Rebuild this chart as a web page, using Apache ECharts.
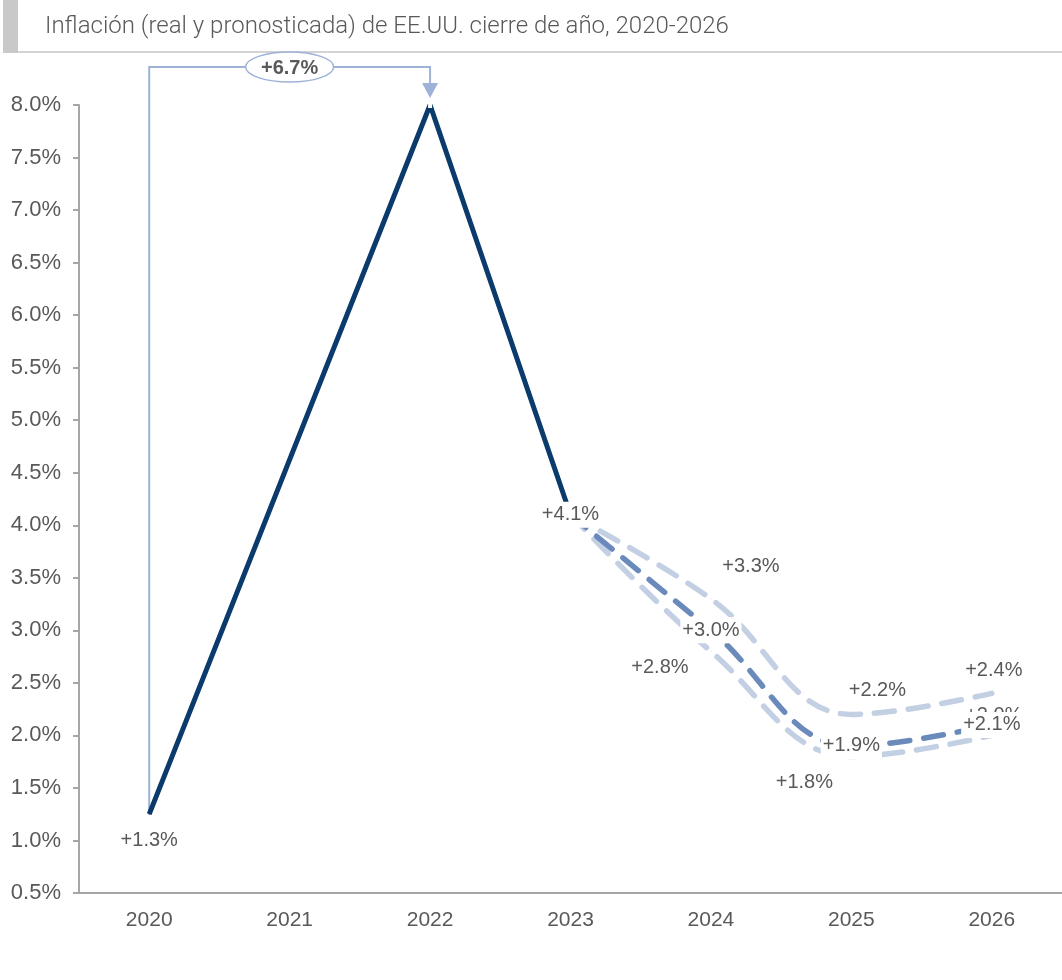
<!DOCTYPE html>
<html>
<head>
<meta charset="utf-8">
<script src="https://cdn.jsdelivr.net/npm/echarts@6/dist/echarts.min.js"></script>
<style>
  html, body { margin: 0; padding: 0; background: #fff; }
  #chart { width: 1062px; height: 980px; }
</style>
</head>
<body>
<div id="chart"></div>
<script>
// categorias y valores
const years = ['2020', '2021', '2022', '2023', '2024', '2025', '2026'];
const actual = [1.25, null, 8.0, 4.1, null, null, null];
const forecastHigh = [null, null, null, 4.1, 3.3, 2.2, 2.4];
const forecastMid = [null, null, null, 4.1, 3.0, 1.9, 2.1];
const forecastLow = [null, null, null, 4.1, 2.8, 1.8, 2.0];

const actualLabels = ['+1.3%', '', '', '+4.1%', '', '', ''];
const highLabels = ['', '', '', '', '+3.3%', '+2.2%', '+2.4%'];
const midLabels = ['', '', '', '', '+3.0%', '+1.9%', '+2.1%'];
const lowLabels = ['', '', '', '', '+2.8%', '+1.8%', '+2.0%'];

const yMin = 0.5;
const yMax = 8.0;
const yStep = 0.5;
const changeLabel = '+6.7%';

// estilos
const navy = '#0b3a6c';
const midBlue = '#6a8abc';
const lightBlue = '#c3cfe3';
const arrowBlue = '#9db2d6';
const textGray = '#595959';
const axisGray = '#a6a6a6';
const labelFont = 'Liberation Sans';

// desplazamientos de etiquetas (px)
const highOffsets = [null, null, null, null, [40, -32], [26, -24], [2, -23]];
const lowOffsets = [null, null, null, null, [-51, 16], [-47, 26], [2, -20]];

const baseLabel = {
  show: true,
  position: 'inside',
  color: textGray,
  fontFamily: labelFont,
  fontSize: 20,
  backgroundColor: '#fff',
  padding: [3, 2]
};

const buildData = (values, labels, offsets) => values.map((v, i) => {
  if (v === null) return null;
  if (!labels[i]) return { value: v, label: { show: false } };
  return {
    value: v,
    label: { show: true, offset: offsets && offsets[i] ? offsets[i] : [0, 0] }
  };
});

const labelFormatter = (labels) => (p) => labels[p.dataIndex];

const dashed = (color) => ({
  color: color,
  width: 5.5,
  type: [20, 14],
  cap: 'round'
});

const chart = echarts.init(document.getElementById('chart'));

chart.setOption({
  animation: false,
  title: {
    text: 'Inflación (real y pronosticada) de EE.UU. cierre de año, 2020-2026',
    left: 40,
    top: 10,
    textStyle: {
      fontFamily: 'Roboto',
      fontWeight: 300,
      fontSize: 24,
      color: textGray
    }
  },
  graphic: [
    { type: 'rect', shape: { x: 3, y: 0, width: 15, height: 53 }, style: { fill: '#c9c9c9' } },
    { type: 'line', shape: { x1: 18, y1: 52, x2: 1062, y2: 52 }, style: { stroke: '#d4d4d4', lineWidth: 2 } }
  ],
  grid: {
    left: 79,
    right: -8,
    top: 105,
    bottom: 87
  },
  xAxis: {
    type: 'category',
    data: years,
    boundaryGap: true,
    axisLine: { lineStyle: { color: axisGray, width: 2 } },
    axisTick: { length: 6, lineStyle: { color: axisGray, width: 2 } },
    axisLabel: {
      color: textGray,
      fontFamily: labelFont,
      fontSize: 21,
      margin: 17
    },
    splitLine: { show: false }
  },
  yAxis: {
    type: 'value',
    min: yMin,
    max: yMax,
    interval: yStep,
    axisLine: { show: true, lineStyle: { color: axisGray, width: 2 } },
    axisTick: { show: true, length: 6, lineStyle: { color: axisGray, width: 2 } },
    axisLabel: {
      color: textGray,
      fontFamily: labelFont,
      fontSize: 22,
      margin: 18,
      formatter: (v) => v.toFixed(1) + '%'
    },
    splitLine: { show: false }
  },
  series: [
    {
      // flecha +6.7%
      type: 'custom',
      clip: false,
      silent: true,
      z: 1,
      encode: { x: [0, 1], y: [2, 3] },
      data: [[years[0], years[2], actual[0], actual[2]]],
      renderItem: function (params, api) {
        const p0 = api.coord([api.value(0), api.value(2)]);
        const p1 = api.coord([api.value(1), api.value(3)]);
        const top = p1[1] - 38;
        const tip = p1[1] - 7;
        const head = 15;
        const cx = (p0[0] + p1[0]) / 2;
        return {
          type: 'group',
          children: [
            {
              type: 'polyline',
              shape: { points: [p0, [p0[0], top], [p1[0], top], [p1[0], tip - head]] },
              style: { stroke: arrowBlue, lineWidth: 2, fill: null }
            },
            {
              type: 'polygon',
              shape: { points: [[p1[0] - 8, tip - head], [p1[0] + 8, tip - head], [p1[0], tip]] },
              style: { fill: arrowBlue }
            },
            {
              type: 'ellipse',
              shape: { cx: cx, cy: top, rx: 44, ry: 15 },
              style: { fill: '#fff', stroke: arrowBlue, lineWidth: 1.5 }
            },
            {
              type: 'text',
              style: {
                x: cx,
                y: top + 1,
                text: changeLabel,
                fill: textGray,
                font: 'bold 20px "Liberation Sans"',
                align: 'center',
                verticalAlign: 'middle'
              }
            }
          ]
        };
      }
    },
    {
      name: 'Real',
      type: 'line',
      z: 3,
      connectNulls: true,
      symbol: 'circle',
      symbolSize: 1,
      itemStyle: { color: navy },
      lineStyle: { color: navy, width: 5 },
      data: actual.map((v, i) => (v === null ? null : {
        value: v,
        label: i === 0 ? { position: 'bottom', distance: 13, backgroundColor: 'transparent' } : {}
      })),
      label: Object.assign({}, baseLabel, { formatter: labelFormatter(actualLabels) })
    },
    {
      name: 'Bajo',
      type: 'line',
      z: 2,
      smooth: 0.4,
      symbol: 'circle',
      symbolSize: 1,
      itemStyle: { color: lightBlue },
      lineStyle: dashed(lightBlue),
      data: buildData(forecastLow, lowLabels, lowOffsets),
      label: Object.assign({}, baseLabel, { formatter: labelFormatter(lowLabels) })
    },
    {
      name: 'Alto',
      type: 'line',
      z: 2,
      smooth: 0.4,
      symbol: 'circle',
      symbolSize: 1,
      itemStyle: { color: lightBlue },
      lineStyle: dashed(lightBlue),
      data: buildData(forecastHigh, highLabels, highOffsets),
      label: Object.assign({}, baseLabel, { formatter: labelFormatter(highLabels) })
    },
    {
      name: 'Central',
      type: 'line',
      z: 2,
      smooth: 0.4,
      symbol: 'circle',
      symbolSize: 1,
      itemStyle: { color: midBlue },
      lineStyle: dashed(midBlue),
      data: buildData(forecastMid, midLabels, null),
      label: Object.assign({}, baseLabel, { formatter: labelFormatter(midLabels) })
    }
  ]
});
</script>
</body>
</html>
